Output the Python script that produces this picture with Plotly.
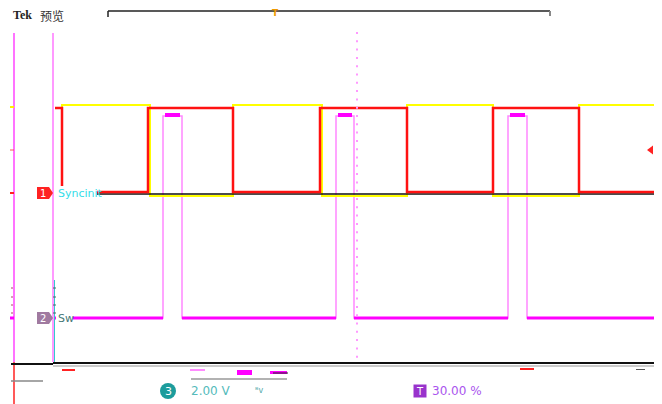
import plotly.graph_objects as go

# ---- data (time axis in screen samples, level axis in screen units, top = 0) ----
t_start, t_end = 55, 655
sync_edges = [62, 148, 233, 320, 407, 493, 579]      # ch1 Syncinit (red)
sync_levels = [192, 108, 192, 108, 192, 108, 192]    # level after each edge
sync_first = 108
ref_edges = [62, 150, 233, 322, 407, 493, 579]       # reference (yellow)
ref_levels = [105, 196, 105, 196, 105, 196, 105]
ref_first = 190
sw_rise = [163, 336, 508]                            # ch2 Sw (magenta)
sw_fall = [182, 354, 527]
sw_low, sw_high, sw_top = 318, 116, 115
baseline_level = 194
baseline_start = 97
center_t = 357
center_dots = [33 + 8.3 * i for i in range(40)]

# page body has an 8px default margin; the figure is sized/ranged to compensate
PAGE_OFF = 8

fig = go.Figure()

# SW pale full trace
sx, sy = [t_start], [sw_low]
for r, f in zip(sw_rise, sw_fall):
    sx += [r, f]
    sy += [sw_high, sw_low]
sx.append(t_end); sy.append(sw_low)
fig.add_trace(go.Scatter(x=sx, y=sy, mode="lines", line=dict(color="#ff88ff", width=1.5, shape="hv"),
                         hoverinfo="skip"))
# SW hot low segments
lx, ly = [], []
starts = [t_start] + sw_fall
ends = sw_rise + [t_end]
for a, b in zip(starts, ends):
    lx += [a, b, None]; ly += [sw_low, sw_low, None]
fig.add_trace(go.Scatter(x=lx, y=ly, mode="lines", line=dict(color="#ff00ff", width=3), hoverinfo="skip"))
# SW hot pulse tops
tx, ty = [], []
for r, f in zip(sw_rise, sw_fall):
    tx += [r + 2, f - 2, None]; ty += [sw_top, sw_top, None]
fig.add_trace(go.Scatter(x=tx, y=ty, mode="lines", line=dict(color="#ff00ff", width=4), hoverinfo="skip"))

# reference (yellow)
yx = [ref_edges[0]] + ref_edges + [t_end]
yy = [ref_first] + ref_levels + [ref_levels[-1]]
fig.add_trace(go.Scatter(x=yx, y=yy, mode="lines", line=dict(color="#ffff00", width=2, shape="hv"),
                         hoverinfo="skip"))
# baseline (black)
fig.add_trace(go.Scatter(x=[baseline_start, t_end], y=[baseline_level, baseline_level], mode="lines",
                         line=dict(color="#111111", width=1.5), hoverinfo="skip"))
# Syncinit (red)
rx = [t_start] + sync_edges + [t_end]
ry = [sync_first] + sync_levels + [sync_levels[-1]]
fig.add_trace(go.Scatter(x=rx, y=ry, mode="lines", line=dict(color="#ff1111", width=2.5, shape="hv"),
                         hoverinfo="skip"))

# centre dotted graticule
fig.add_trace(go.Scatter(x=[center_t] * len(center_dots), y=center_dots, mode="markers",
                         marker=dict(color="#ff99ff", size=2, symbol="square"), hoverinfo="skip"))

# markers: right red arrow, bottom badges, channel arrows
fig.add_trace(go.Scatter(x=[651], y=[150], mode="markers",
                         marker=dict(color="#ff2222", size=8, symbol="triangle-left"), hoverinfo="skip"))
fig.add_trace(go.Scatter(x=[168], y=[391], mode="markers",
                         marker=dict(color="#1c9c9c", size=16, symbol="circle"), hoverinfo="skip"))
fig.add_trace(go.Scatter(x=[420], y=[391], mode="markers",
                         marker=dict(color="#9933cc", size=13, symbol="square"), hoverinfo="skip"))

shapes = []
def line(x0, y0, x1, y1, color, width=1):
    shapes.append(dict(type="line", x0=x0, y0=y0, x1=x1, y1=y1, xref="x", yref="y",
                       line=dict(color=color, width=width)))

def rect(x0, y0, x1, y1, color):
    shapes.append(dict(type="rect", x0=x0, y0=y0, x1=x1, y1=y1, xref="x", yref="y",
                       line=dict(width=0), fillcolor=color))

# top bracket
line(108, 11, 550, 11, "#222222", 1.5)
line(108, 11, 108, 17, "#222222", 1.5)
line(550, 11, 550, 16, "#888888", 2)
# left verticals
line(14, 33, 14, 362, "#ff44ff", 1.5)
line(14, 362, 14, 404, "#ff2222", 1.5)
line(53, 33, 53, 362, "#ff77ff", 1.5)
line(54.5, 280, 54.5, 362, "#33cccc", 1)
# bottom horizontal lines
line(53, 363, 655, 363, "#111111", 2)
line(53, 366, 655, 366, "#999999", 1)
line(11, 364, 53, 364, "#111111", 2)
line(11, 381, 43, 381, "#888888", 1.5)
# left ticks
line(10, 107, 14, 107, "#ffee00", 2)
line(10, 150, 14, 150, "#ff5555", 1)
line(10, 193, 14, 193, "#ff2222", 2)
line(10, 318, 14, 318, "#ff00ff", 3)
for yv in [288, 297, 305, 313]:
    line(11, yv, 13, yv, "#aa4466", 1)
    line(53, yv, 56, yv, "#446666", 1)
# bottom glitch bits
line(190, 370, 205, 370, "#ff66ff", 1.5)
rect(237, 370, 252, 375, "#ff00ff")
rect(270, 371, 287, 374, "#ff00ff")
line(273, 373, 288, 373, "#222222", 1)
line(191, 379, 287, 379, "#999999", 1.5)
rect(62, 369, 75, 371, "#ff2222")
rect(520, 368, 534, 370, "#ff2222")
rect(636, 369, 645, 370, "#555555")
# white label backgrounds covering the traces under the channel names
rect(56, 186, 97, 200, "white")
rect(56, 311, 73, 325, "white")
# channel label boxes
rect(37, 187, 49, 199, "#ff2222")
rect(37, 312, 49, 324, "#a07aa0")
shapes.append(dict(type="path", path="M 49 187 L 53 193 L 49 199 Z", xref="x", yref="y",
                   line=dict(width=0), fillcolor="#ff2222"))
shapes.append(dict(type="path", path="M 49 312 L 53 318 L 49 324 Z", xref="x", yref="y",
                   line=dict(width=0), fillcolor="#a07aa0"))

annotations = [
    dict(x=11, y=15, text="<b>Tek</b>", font=dict(family="Liberation Serif", size=12, color="#222222"),
         xanchor="left", yanchor="middle", showarrow=False),
    dict(x=38, y=15, text="预览", font=dict(family="Noto Sans CJK SC", size=12, color="#333333"),
         xanchor="left", yanchor="middle", showarrow=False),
    dict(x=275, y=13, text="<b>T</b>", font=dict(family="DejaVu Sans", size=9, color="#ee9900"),
         xanchor="center", yanchor="middle", showarrow=False),
    dict(x=43, y=193, text="1", font=dict(family="DejaVu Sans", size=10, color="white"),
         xanchor="center", yanchor="middle", showarrow=False),
    dict(x=56, y=193, text="Syncinit", font=dict(family="DejaVu Sans", size=11, color="#33dde8"),
         xanchor="left", yanchor="middle", showarrow=False),
    dict(x=43, y=318, text="2", font=dict(family="DejaVu Sans", size=10, color="white"),
         xanchor="center", yanchor="middle", showarrow=False),
    dict(x=56, y=318, text="Sw", font=dict(family="DejaVu Sans", size=11, color="#447777"),
         xanchor="left", yanchor="middle", showarrow=False),
    dict(x=168, y=391, text="3", font=dict(family="DejaVu Sans", size=11, color="white"),
         xanchor="center", yanchor="middle", showarrow=False),
    dict(x=189, y=391, text="2.00 V", font=dict(family="DejaVu Sans", size=12, color="#55bbbb"),
         xanchor="left", yanchor="middle", showarrow=False),
    dict(x=253, y=390, text="ᴮv", font=dict(family="DejaVu Sans", size=8, color="#55aaaa"),
         xanchor="left", yanchor="middle", showarrow=False),
    dict(x=420, y=391, text="T", font=dict(family="DejaVu Sans", size=10, color="white"),
         xanchor="center", yanchor="middle", showarrow=False),
    dict(x=430, y=391, text="30.00 %", font=dict(family="DejaVu Sans", size=12, color="#aa55ee"),
         xanchor="left", yanchor="middle", showarrow=False),
]

fig.update_layout(
    width=662 - PAGE_OFF, height=404 - PAGE_OFF, margin=dict(l=0, r=0, t=0, b=0),
    paper_bgcolor="white", plot_bgcolor="white", showlegend=False,
    xaxis=dict(range=[PAGE_OFF, 662], visible=False, fixedrange=True),
    yaxis=dict(range=[404, PAGE_OFF], visible=False, fixedrange=True),
    shapes=shapes, annotations=annotations,
)
fig.write_html("out.html", config={"displayModeBar": False})
